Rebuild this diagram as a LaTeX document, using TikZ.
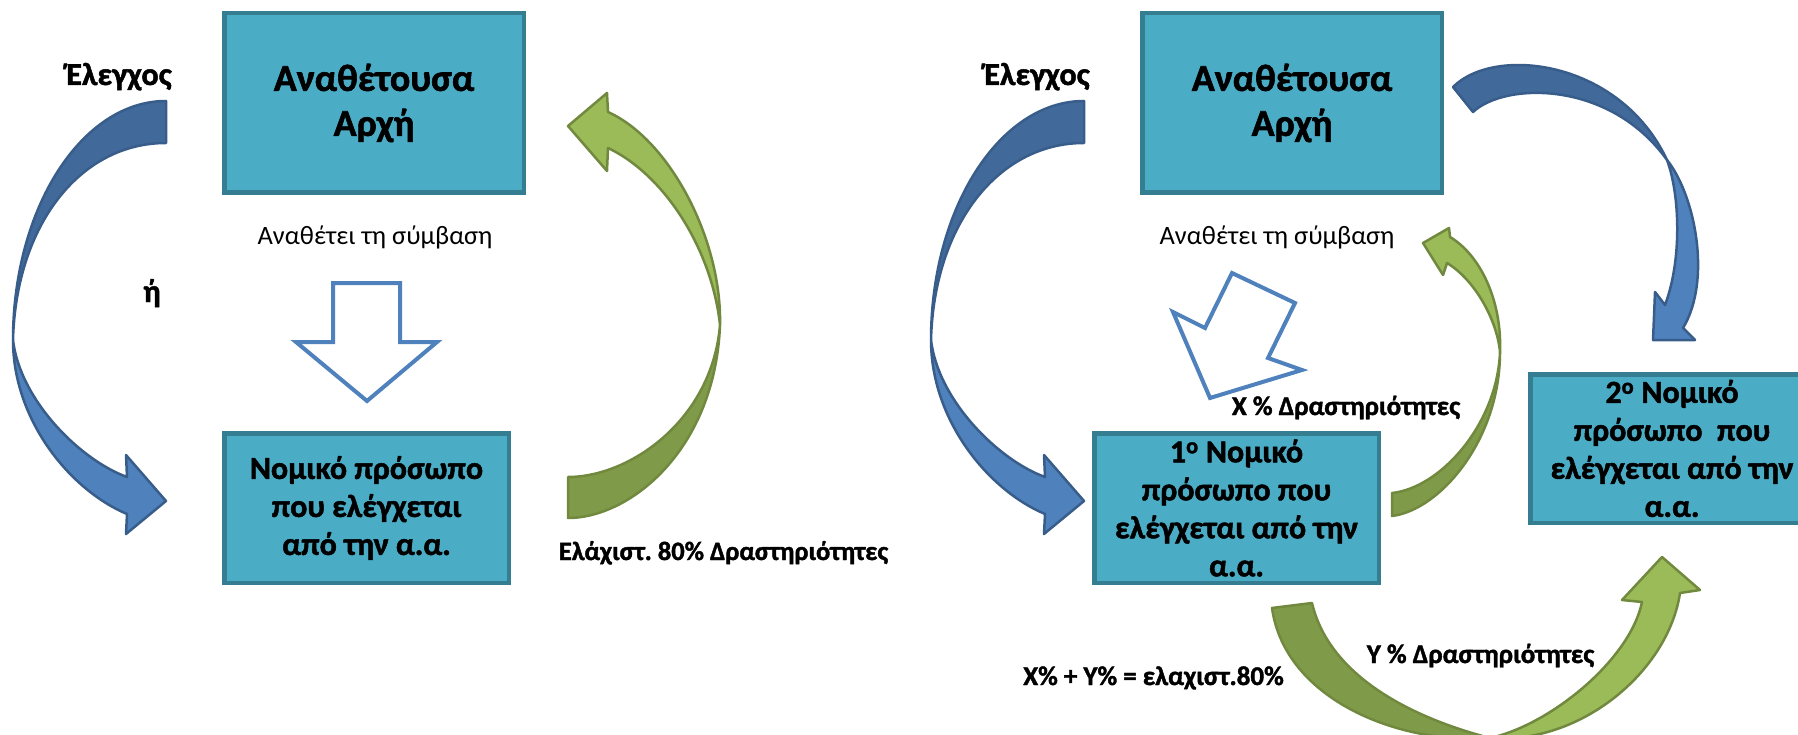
\documentclass[tikz,border=0pt]{standalone}
\usepackage{fontspec}
\setmainfont{Carlito}[BoldFeatures={FakeBold=1.5}]
\frenchspacing
\definecolor{boxfill}{HTML}{4BACC6}
\definecolor{boxdraw}{HTML}{357D91}
\definecolor{bluedark}{HTML}{41699A}
\definecolor{bluelight}{HTML}{4F81BD}
\definecolor{blueline}{HTML}{385D8A}
\definecolor{greendark}{HTML}{7F9A48}
\definecolor{greenlight}{HTML}{9BBB59}
\definecolor{greenline}{HTML}{71893F}
\definecolor{hollowline}{HTML}{4F81BD}
\tikzset{
  box/.style={draw=boxdraw, fill=boxfill, line width=4.5pt, inner sep=0pt, align=center,
    font=\bfseries\fontsize{32}{38}\selectfont},
  bigbox/.style={box, font=\bfseries\fontsize{38}{45}\selectfont},
  lbl/.style={inner sep=0pt, anchor=base, font=\bfseries\fontsize{26.5}{30}\selectfont},
  smalllbl/.style={lbl, font=\bfseries\fontsize{27}{30}\selectfont},
  ctrllbl/.style={lbl, font=\bfseries\fontsize{32}{36}\selectfont},
  plainlbl/.style={inner sep=0pt, anchor=base, font=\fontsize{26.5}{30}\selectfont},
  bluebackpart/.style={fill=bluedark, draw=blueline, line width=2.5pt, line join=round},
  bluefrontpart/.style={fill=bluelight, draw=blueline, line width=2.5pt, line join=round},
  greenbackpart/.style={fill=greendark, draw=greenline, line width=2.5pt, line join=round},
  greenfrontpart/.style={fill=greenlight, draw=greenline, line width=2.5pt, line join=round},
  hollowarrow/.style={fill=white, draw=hollowline, line width=4pt, line join=miter}
}
\begin{document}
\begin{tikzpicture}[x=1pt, y=-1pt]
\useasboundingbox (0,0) rectangle (1798,735);
\clip (0,0) rectangle (1798,735);

% ---------------- left panel ----------------
\node[bigbox, minimum width=299.5pt, minimum height=179.5pt] (aa1) at (374,103) {Αναθέτουσα\\Αρχή};
\node[box, minimum width=284.5pt, minimum height=149.5pt] (np1) at (366.5,508) {Νομικό πρόσωπο\\που ελέγχεται\\από την α.α.};

\node[ctrllbl] (elegxos1) at (119,85) {Έλεγχος};
\node[ctrllbl] (or1) at (152,302) {ή};
\node[plainlbl] (anathetei1) at (375,245) {Αναθέτει τη σύμβαση};
\node[lbl] (min80) at (723.5,560) {Ελάχιστ. 80\% Δραστηριότητες};

% hollow down arrow
\path[hollowarrow] (333,283) -- (400,283) -- (400,342) -- (437,342) -- (367,401) -- (296,342) -- (333,342) -- cycle;

% blue curved arrow (left)
\path[bluebackpart] (166,101) .. controls (82,101) and (13,208) .. (13,340)
   .. controls (16,225) and (80,143) .. (166,143) -- cycle;
\path[bluefrontpart] (13,340) .. controls (13,420) and (70,490) .. (127,514)
   -- (126,534) -- (166,501) -- (126,455) -- (127,477)
   .. controls (80,460) and (20,400) .. (13,340) -- cycle;

% green curved arrow (left panel)
\path[greenbackpart] (568,518) .. controls (630,518) and (715,450) .. (720,325)
   .. controls (712,420) and (630,477) .. (568,477) -- cycle;
\path[greenfrontpart] (720,325) .. controls (722,240) and (670,140) .. (608,112)
   -- (607,93) -- (568,126) -- (607,171) -- (608,148)
   .. controls (665,175) and (712,250) .. (720,325) -- cycle;

% ---------------- right panel ----------------
\node[bigbox, minimum width=299.5pt, minimum height=179.5pt] (aa2) at (1292,103) {Αναθέτουσα\\Αρχή};
\node[box, minimum width=284.5pt, minimum height=149.5pt] (np2) at (1236.5,508) {1\textsuperscript{ο} Νομικό\\πρόσωπο που\\ελέγχεται από την\\α.α.};
\node[box, minimum width=283.5pt, minimum height=148.5pt] (np3) at (1672,448.5) {2\textsuperscript{ο} Νομικό\\πρόσωπο\ \ που\\ελέγχεται από την\\α.α.};

\node[ctrllbl] (elegxos2) at (1037,85) {Έλεγχος};
\node[plainlbl] (anathetei2) at (1277,245) {Αναθέτει τη σύμβαση};
\node[smalllbl] (xpct) at (1346,415) {X \% Δραστηριότητες};
\node[smalllbl] (ypct) at (1480.5,663) {Y \% Δραστηριότητες};
\node[smalllbl] (sumpct) at (1153.5,685) {X\% + Y\% = ελαχιστ.80\%};

% tilted hollow arrow
\path[hollowarrow] (1232,273) -- (1295,303) -- (1268,358) -- (1302,370) -- (1210,398) -- (1173,312) -- (1205,328) -- cycle;

% blue curved arrow (right panel, left side)
\begin{scope}[shift={(918,0)}]
\path[bluebackpart] (166,101) .. controls (82,101) and (13,208) .. (13,340)
   .. controls (16,225) and (80,143) .. (166,143) -- cycle;
\path[bluefrontpart] (13,340) .. controls (13,420) and (70,490) .. (127,514)
   -- (126,534) -- (166,501) -- (126,455) -- (127,477)
   .. controls (80,460) and (20,400) .. (13,340) -- cycle;
\end{scope}

% blue curved arrow (top right)
\path[bluebackpart] (1453,87) .. controls (1495,45) and (1620,60) .. (1667,160)
   .. controls (1610,80) and (1505,82) .. (1473,112) -- cycle;
\path[bluefrontpart] (1667,160) .. controls (1695,195) and (1712,280) .. (1683,328)
   -- (1695,340) -- (1653,340) -- (1655,292) -- (1665,305)
   .. controls (1682,260) and (1680,195) .. (1667,160) -- cycle;

% green curved arrow (middle, right panel)
\path[greenbackpart] (1392,516) .. controls (1440,510) and (1500,440) .. (1500,352)
   .. controls (1497,425) and (1440,488) .. (1392,493) -- cycle;
\path[greenfrontpart] (1500,352) .. controls (1502,300) and (1480,255) .. (1450,237)
   -- (1449,228) -- (1423,243) -- (1443,275) -- (1447,263)
   .. controls (1475,280) and (1497,320) .. (1500,352) -- cycle;

% green curved arrow (bottom, right panel)
\path[greenbackpart] (1272,608) .. controls (1285,700) and (1400,745) .. (1490,738)
   .. controls (1420,720) and (1330,680) .. (1312,603) -- cycle;
\path[greenfrontpart] (1490,738) .. controls (1580,745) and (1668,672) .. (1680,593)
   -- (1700,590) -- (1662,557) -- (1622,600) -- (1642,602)
   .. controls (1630,660) and (1550,725) .. (1490,738) -- cycle;
\end{tikzpicture}
\end{document}
